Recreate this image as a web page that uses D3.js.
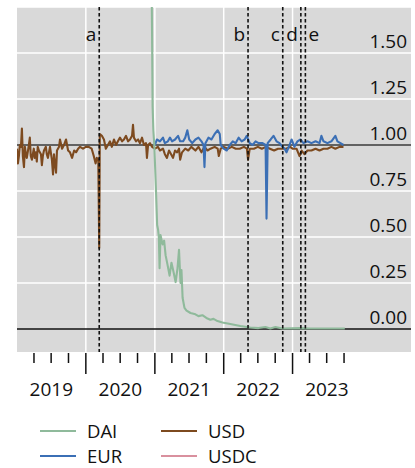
<!DOCTYPE html>
<html><head><meta charset="utf-8">
<script src="https://cdn.jsdelivr.net/npm/d3@7"></script>
<style>
body{margin:0;background:#fff}
svg{display:block}
text{font-family:"Open Sans",sans-serif;fill:#111}
</style>
</head><body>
<svg id="c" width="415" height="468"></svg>
<script>
(function(){
// ---------- data ----------
const seriesNames = ["DAI", "EUR", "USD", "USDC"];
const seriesColors = {DAI:"#8fba9b", EUR:"#3b6fb5", USD:"#7d4a1f", USDC:"#d9909e"};
const yTicks = [0, 0.25, 0.5, 0.75, 1.0, 1.25, 1.5];
const yearLabels = ["2019", "2020", "2021", "2022", "2023"];
const events = [
  {label:"a", date:"2020-03-12", side:"left"},
  {label:"b", date:"2022-05-10", side:"left"},
  {label:"c", date:"2022-11-10", side:"left"},
  {label:"d", date:"2023-02-14", side:"left"},
  {label:"e", date:"2023-03-10", side:"right"}
];
const refLines = [0, 1];

const usd = [
["2019-01-01",0.98],["2019-01-06",0.90],["2019-01-11",0.94],["2019-01-16",1.00],["2019-01-22",0.99],["2019-01-27",1.09],["2019-02-01",0.94],
["2019-02-07",0.88],["2019-02-12",0.99],["2019-02-17",0.95],["2019-02-22",0.93],["2019-03-05",1.00],["2019-03-10",1.04],["2019-03-15",0.94],["2019-03-21",0.92],
["2019-03-31",0.98],["2019-04-05",0.93],["2019-04-11",0.96],["2019-04-16",0.91],["2019-04-21",0.99],["2019-04-27",0.97],["2019-05-08",0.95],
["2019-05-13",0.89],["2019-05-18",0.94],["2019-05-24",0.97],["2019-06-03",0.99],["2019-06-08",0.95],["2019-06-14",0.93],["2019-06-25",0.99],
["2019-07-05",0.92],["2019-07-11",0.84],["2019-07-16",0.95],["2019-07-21",0.90],["2019-07-27",0.85],["2019-08-01",0.97],
["2019-08-12",0.99],["2019-08-17",1.03],["2019-08-28",0.98],["2019-09-07",1.00],["2019-09-18",1.03],
["2019-09-29",0.97],["2019-10-09",0.96],["2019-10-20",0.93],["2019-10-31",0.97],["2019-11-10",0.96],
["2019-11-21",0.98],["2019-12-01",0.99],["2019-12-17",0.98],["2020-01-01",0.99],["2020-01-16",0.99],
["2020-02-01",0.98],["2020-02-12",0.94],["2020-02-22",0.90],["2020-02-28",0.93],["2020-03-07",0.92],
["2020-03-12",0.44],["2020-03-15",1.06],["2020-03-26",1.05],["2020-04-06",1.03],["2020-04-16",0.98],
["2020-04-27",1.00],["2020-05-08",1.02],["2020-05-18",0.99],["2020-05-29",1.03],["2020-06-09",1.00],
["2020-06-19",1.02],["2020-06-30",1.04],["2020-07-11",1.02],["2020-07-21",1.03],["2020-08-01",1.05],
["2020-08-12",1.02],["2020-08-22",1.03],["2020-09-02",1.05],["2020-09-07",1.11],["2020-09-12",1.04],
["2020-09-23",1.02],["2020-10-04",1.03],["2020-10-14",1.01],["2020-10-25",1.04],["2020-11-04",1.00],
["2020-11-15",1.01],["2020-11-20",0.93],["2020-11-26",1.00],["2020-12-06",1.01],["2020-12-17",0.99],
["2021-01-01",0.98],["2021-01-17",0.99],["2021-01-28",0.97],["2021-02-13",0.98],["2021-02-23",0.95],
["2021-03-06",0.93],["2021-03-17",0.97],["2021-03-28",0.95],["2021-04-07",0.93],["2021-04-18",0.97],
["2021-04-29",0.96],["2021-05-09",0.98],["2021-05-15",0.92],["2021-05-25",0.96],["2021-06-11",0.98],
["2021-06-27",0.97],["2021-07-13",0.99],["2021-08-04",0.97],["2021-08-20",0.99],["2021-09-05",0.96],
["2021-09-21",0.99],["2021-10-07",0.97],["2021-10-23",0.98],["2021-11-14",0.99],["2021-11-30",0.98],
["2021-12-06",0.94],["2021-12-16",0.98],["2022-01-01",0.99],["2022-01-22",0.98],["2022-02-13",0.99],
["2022-03-06",0.98],["2022-03-27",0.98],["2022-04-18",0.99],["2022-05-04",0.98],["2022-05-10",0.92],
["2022-05-19",0.98],["2022-06-10",0.98],["2022-07-01",0.99],["2022-07-22",0.98],["2022-08-13",0.99],
["2022-09-03",0.98],["2022-09-25",0.97],["2022-10-16",0.98],["2022-11-06",0.98],["2022-11-28",0.98],
["2022-12-19",0.99],["2023-01-01",0.98],["2023-01-22",0.98],["2023-02-07",0.94],["2023-02-18",0.97],
["2023-03-05",0.95],["2023-03-21",0.97],["2023-04-11",0.97],["2023-05-03",0.98],["2023-05-24",0.97],
["2023-06-14",0.98],["2023-07-05",0.98],["2023-07-26",0.99],["2023-08-16",0.98],["2023-09-07",0.99],
["2023-09-28",0.99]
];

const eur = [
["2021-01-01",1.00],["2021-01-12",1.03],["2021-01-28",1.02],["2021-02-13",1.04],["2021-02-23",1.01],
["2021-03-11",1.02],["2021-03-22",1.04],["2021-04-02",1.02],["2021-04-18",1.03],["2021-05-04",1.05],
["2021-05-15",1.02],["2021-05-31",1.02],["2021-06-11",1.04],["2021-06-22",1.08],["2021-07-02",1.03],
["2021-07-18",1.01],["2021-08-04",1.03],["2021-08-20",1.04],["2021-09-05",1.02],["2021-09-16",1.00],
["2021-09-21",0.88],["2021-09-26",1.01],["2021-10-12",1.04],["2021-10-28",1.03],["2021-11-14",1.06],
["2021-11-30",1.08],["2021-12-11",1.06],["2021-12-16",1.00],["2022-01-01",0.98],["2022-01-17",0.97],
["2022-02-02",1.00],["2022-02-18",1.02],["2022-03-05",1.01],["2022-03-21",1.04],["2022-04-06",1.02],
["2022-04-22",1.03],["2022-05-03",1.05],["2022-05-19",1.01],["2022-06-03",1.00],["2022-06-19",1.02],
["2022-07-05",1.01],["2022-07-26",1.01],["2022-08-11",1.00],["2022-08-16",0.60],["2022-08-22",1.01],
["2022-09-07",1.03],["2022-09-22",1.05],["2022-10-08",1.02],["2022-10-24",1.01],["2022-11-09",0.99],
["2022-11-20",0.98],["2022-11-30",0.96],["2022-12-16",1.00],["2022-12-27",1.03],["2023-01-11",0.99],
["2023-01-27",1.02],["2023-02-12",1.03],["2023-02-28",1.01],["2023-03-21",1.02],["2023-04-11",1.01],
["2023-05-03",1.02],["2023-05-24",1.01],["2023-06-03",1.05],["2023-06-14",1.02],["2023-07-05",1.01],
["2023-07-26",1.02],["2023-08-16",1.05],["2023-08-27",1.02],["2023-09-12",1.01],["2023-09-28",1.00]
];

const dai = [
["2020-12-10",2.60],["2020-12-14",1.95],["2020-12-17",1.62],["2020-12-20",1.21],["2020-12-24",1.08],
["2020-12-29",1.00],["2021-01-07",0.75],["2021-01-13",0.565],["2021-01-18",0.54],["2021-01-22",0.50],
["2021-01-26",0.33],["2021-01-31",0.51],["2021-02-11",0.46],["2021-02-19",0.48],["2021-02-27",0.40],
["2021-03-09",0.35],["2021-03-20",0.29],["2021-03-30",0.36],["2021-04-10",0.31],["2021-04-21",0.255],
["2021-05-01",0.33],["2021-05-09",0.43],["2021-05-17",0.25],["2021-05-22",0.32],["2021-05-28",0.17],
["2021-06-07",0.115],["2021-06-18",0.10],["2021-07-09",0.087],["2021-08-04",0.08],["2021-08-20",0.07],
["2021-09-10",0.075],["2021-10-01",0.06],["2021-10-22",0.05],["2021-11-08",0.055],["2021-11-29",0.043],
["2021-12-25",0.035],["2022-02-05",0.027],["2022-03-30",0.016],["2022-05-22",0.008],["2022-07-04",0.005],
["2022-08-10",0.011],["2022-09-05",0.003],["2022-10-02",0.011],["2022-11-08",0.003],["2023-02-09",0.005],
["2023-04-03",0.003],["2023-10-05",0.003]
];

const usdc = []; // listed in legend, no visible line

// ---------- layout ----------
const svg = d3.select("#c");
const parse = d3.utcParse("%Y-%m-%d");
const pL = 17, pR = 411, pT = 7, pB = 352;

const x = d3.scaleUtc().domain([parse("2019-01-01"), parse("2024-09-20")]).range([pL, pR]);
const y = d3.scaleLinear().domain([-0.125, 1.75]).range([pB, pT]);

svg.append("rect").attr("x", pL).attr("y", pT).attr("width", pR-pL).attr("height", pB-pT).attr("fill", "#d9d9d9");

svg.append("defs").append("clipPath").attr("id","clip").append("rect")
  .attr("x", pL).attr("y", pT).attr("width", pR-pL).attr("height", pB-pT);

// gridlines
const years = d3.utcYear.range(parse("2020-01-01"), parse("2024-01-01"));
svg.append("g").selectAll("line").data(years).join("line")
  .attr("x1", d=>x(d)).attr("x2", d=>x(d)).attr("y1", pT).attr("y2", pB)
  .attr("stroke", "#fff").attr("stroke-width", 1.5);
svg.append("g").selectAll("line").data(yTicks.filter(v=>!refLines.includes(v)).concat([1.75])).join("line")
  .attr("x1", pL).attr("x2", pR).attr("y1", d=>y(d)).attr("y2", d=>y(d))
  .attr("stroke", "#fff").attr("stroke-width", 1.5);

// reference lines
svg.append("g").selectAll("line").data(refLines).join("line")
  .attr("x1", pL).attr("x2", pR).attr("y1", d=>y(d)).attr("y2", d=>y(d))
  .attr("stroke", d=> d===0 ? "#111" : "#3a3a3a").attr("stroke-width", 1.3);

// y labels
svg.append("g").selectAll("text").data(yTicks).join("text")
  .attr("x", 407).attr("y", d=>y(d)-5).attr("text-anchor","end")
  .attr("font-size", 19).text(d=>d3.format(".2f")(d));

// data lines
const line = d3.line().x(d=>x(parse(d[0]))).y(d=>y(d[1]));
const g = svg.append("g").attr("clip-path","url(#clip)");
[["USD",usd],["EUR",eur],["USDC",usdc],["DAI",dai]].forEach(([name, data])=>{
  if (!data.length) return;
  g.append("path").datum(data).attr("d", line).attr("fill","none")
    .attr("stroke", seriesColors[name]).attr("stroke-width", 2.1).attr("stroke-linejoin","round");
});

// event lines
const ev = svg.append("g");
events.forEach(e=>{
  const ex = x(parse(e.date));
  ev.append("line").attr("x1", ex).attr("x2", ex).attr("y1", pT).attr("y2", pB)
    .attr("stroke","#111").attr("stroke-width",1.6).attr("stroke-dasharray","3.5,2.5");
  ev.append("text").attr("x", e.side==="left" ? ex-3 : ex+3).attr("y", 41)
    .attr("text-anchor", e.side==="left" ? "end" : "start").attr("font-size",19).text(e.label);
});

// x ticks
const quarters = d3.utcMonth.every(3).range(parse("2019-04-01"), parse("2023-11-01"));
svg.append("g").selectAll("line").data(quarters).join("line")
  .attr("x1", d=>x(d)).attr("x2", d=>x(d)).attr("y1", pB+1)
  .attr("y2", d=> d.getUTCMonth()===0 ? 374 : 363)
  .attr("stroke","#111").attr("stroke-width",1.5);

svg.append("g").selectAll("text").data(yearLabels).join("text")
  .attr("x", d=>x(parse(d+"-07-02"))).attr("y", 396).attr("text-anchor","middle")
  .attr("font-size",19).text(d=>d);

// legend
const legendItems = [
  {name:"DAI", col:0, row:0},{name:"EUR", col:0, row:1},
  {name:"USD", col:1, row:0},{name:"USDC", col:1, row:1}
];
const lg = svg.append("g");
legendItems.forEach(it=>{
  const lx = 40 + it.col*121, ly = 431 + it.row*25;
  lg.append("line").attr("x1", lx).attr("x2", lx+36).attr("y1", ly).attr("y2", ly)
    .attr("stroke", seriesColors[it.name]).attr("stroke-width", 2);
  lg.append("text").attr("x", lx+47).attr("y", ly+6.5).attr("font-size",18.5).text(it.name);
});
})();
</script>
</body></html>
